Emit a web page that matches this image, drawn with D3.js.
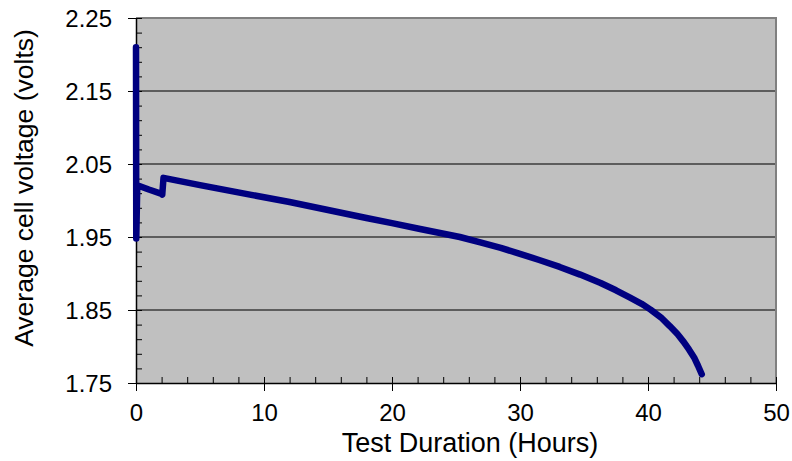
<!DOCTYPE html>
<html>
<head>
<meta charset="utf-8">
<script src="https://cdn.jsdelivr.net/npm/d3@7"></script>
<style>
  body { margin: 0; background: #fff; }
  text { font-family: "Liberation Sans", Arial, sans-serif; }
</style>
</head>
<body>
<div id="chart"></div>
<script>
// hours since start of test
var hours = [0, 0.02, 0.1, 1.0, 2.0, 2.05, 2.15, 5, 8.9, 12, 15, 18, 20, 22.2, 25.3, 26.9, 28.5, 30, 31.5, 33.1, 34.7, 36.3, 37.5, 38.6, 39.5, 40.2, 41.0, 41.7, 42.3, 42.8, 43.2, 43.6, 43.9, 44.2];
// average cell voltage (volts)
var volts = [2.21, 1.948, 2.021, 2.015, 2.009, 2.008, 2.031, 2.021, 2.008, 1.998, 1.987, 1.976, 1.969, 1.961, 1.950, 1.9425, 1.935, 1.927, 1.9185, 1.909, 1.8985, 1.887, 1.877, 1.867, 1.8585, 1.8505, 1.840, 1.828, 1.817, 1.806, 1.796, 1.785, 1.774, 1.762];

var xTicks = [0, 10, 20, 30, 40, 50];
var yTicks = [1.75, 1.85, 1.95, 2.05, 2.15, 2.25];

var W = 792, H = 461;
var margin = {top: 18, right: 16, bottom: 78, left: 136};
var width = W - margin.left - margin.right;
var height = H - margin.top - margin.bottom;

var svg = d3.select("#chart").append("svg")
    .attr("width", W)
    .attr("height", H);

var x = d3.scaleLinear().domain([0, 50]).range([0, width]);
var y = d3.scaleLinear().domain([1.75, 2.25]).range([height, 0]);

var g = svg.append("g")
    .attr("transform", "translate(" + margin.left + "," + margin.top + ")");

// plot background
g.append("rect")
    .attr("width", width)
    .attr("height", height)
    .attr("fill", "#c0c0c0");

// gridlines
g.selectAll(".grid").data(yTicks.slice(1, -1)).enter().append("line")
    .attr("class", "grid")
    .attr("x1", 0).attr("x2", width)
    .attr("y1", function(d) { return y(d); })
    .attr("y2", function(d) { return y(d); })
    .attr("stroke", "#3c3c3c")
    .attr("stroke-width", 1.3);

// top / right border
g.append("path")
    .attr("d", "M0,0H" + width + "V" + height)
    .attr("fill", "none")
    .attr("stroke", "#808080")
    .attr("stroke-width", 2);

// minor ticks (inside)
g.append("g")
    .attr("transform", "translate(0," + height + ")")
    .call(d3.axisTop(x).tickValues(d3.range(0, 51, 2)).tickSize(6).tickFormat(""))
    .call(function(a) { a.select(".domain").remove(); a.selectAll("line").attr("stroke", "#000"); });
g.append("g")
    .call(d3.axisRight(y).tickValues(d3.range(1.75, 2.2501, 0.02)).tickSize(6).tickFormat(""))
    .call(function(a) { a.select(".domain").remove(); a.selectAll("line").attr("stroke", "#000"); });

// major axes
var xAxis = g.append("g")
    .attr("transform", "translate(0," + height + ")")
    .call(d3.axisBottom(x).tickValues(xTicks).tickSize(8).tickSizeOuter(0).tickPadding(13).tickFormat(d3.format("d")));
var yAxis = g.append("g")
    .call(d3.axisLeft(y).tickValues(yTicks).tickSize(8).tickSizeOuter(0).tickPadding(16).tickFormat(d3.format(".2f")));

[xAxis, yAxis].forEach(function(a) {
  a.select(".domain").attr("stroke", "#000").attr("stroke-width", 1.5);
  a.selectAll("line").attr("stroke", "#000").attr("stroke-width", 1);
  a.selectAll("text")
    .attr("fill", "#000")
    .style("font-size", "24px")
    .style("font-family", "'Liberation Sans', Arial, sans-serif");
});
yAxis.selectAll("text").attr("dy", "0.36em");

// voltage curve
var pts = hours.map(function(h, i) { return [h, volts[i]]; });
g.append("path")
    .datum(pts)
    .attr("fill", "none")
    .attr("stroke", "#000080")
    .attr("stroke-width", 6.5)
    .attr("stroke-linejoin", "round")
    .attr("stroke-linecap", "round")
    .attr("d", d3.line()
        .x(function(d) { return x(d[0]); })
        .y(function(d) { return y(d[1]); }));

// axis titles
svg.append("text")
    .attr("x", 470)
    .attr("y", 452)
    .attr("text-anchor", "middle")
    .style("font-size", "27px")
    .text("Test Duration (Hours)");

svg.append("text")
    .attr("transform", "translate(33,188) rotate(-90)")
    .attr("text-anchor", "middle")
    .style("font-size", "26.5px")
    .text("Average cell voltage (volts)");
</script>
</body>
</html>
